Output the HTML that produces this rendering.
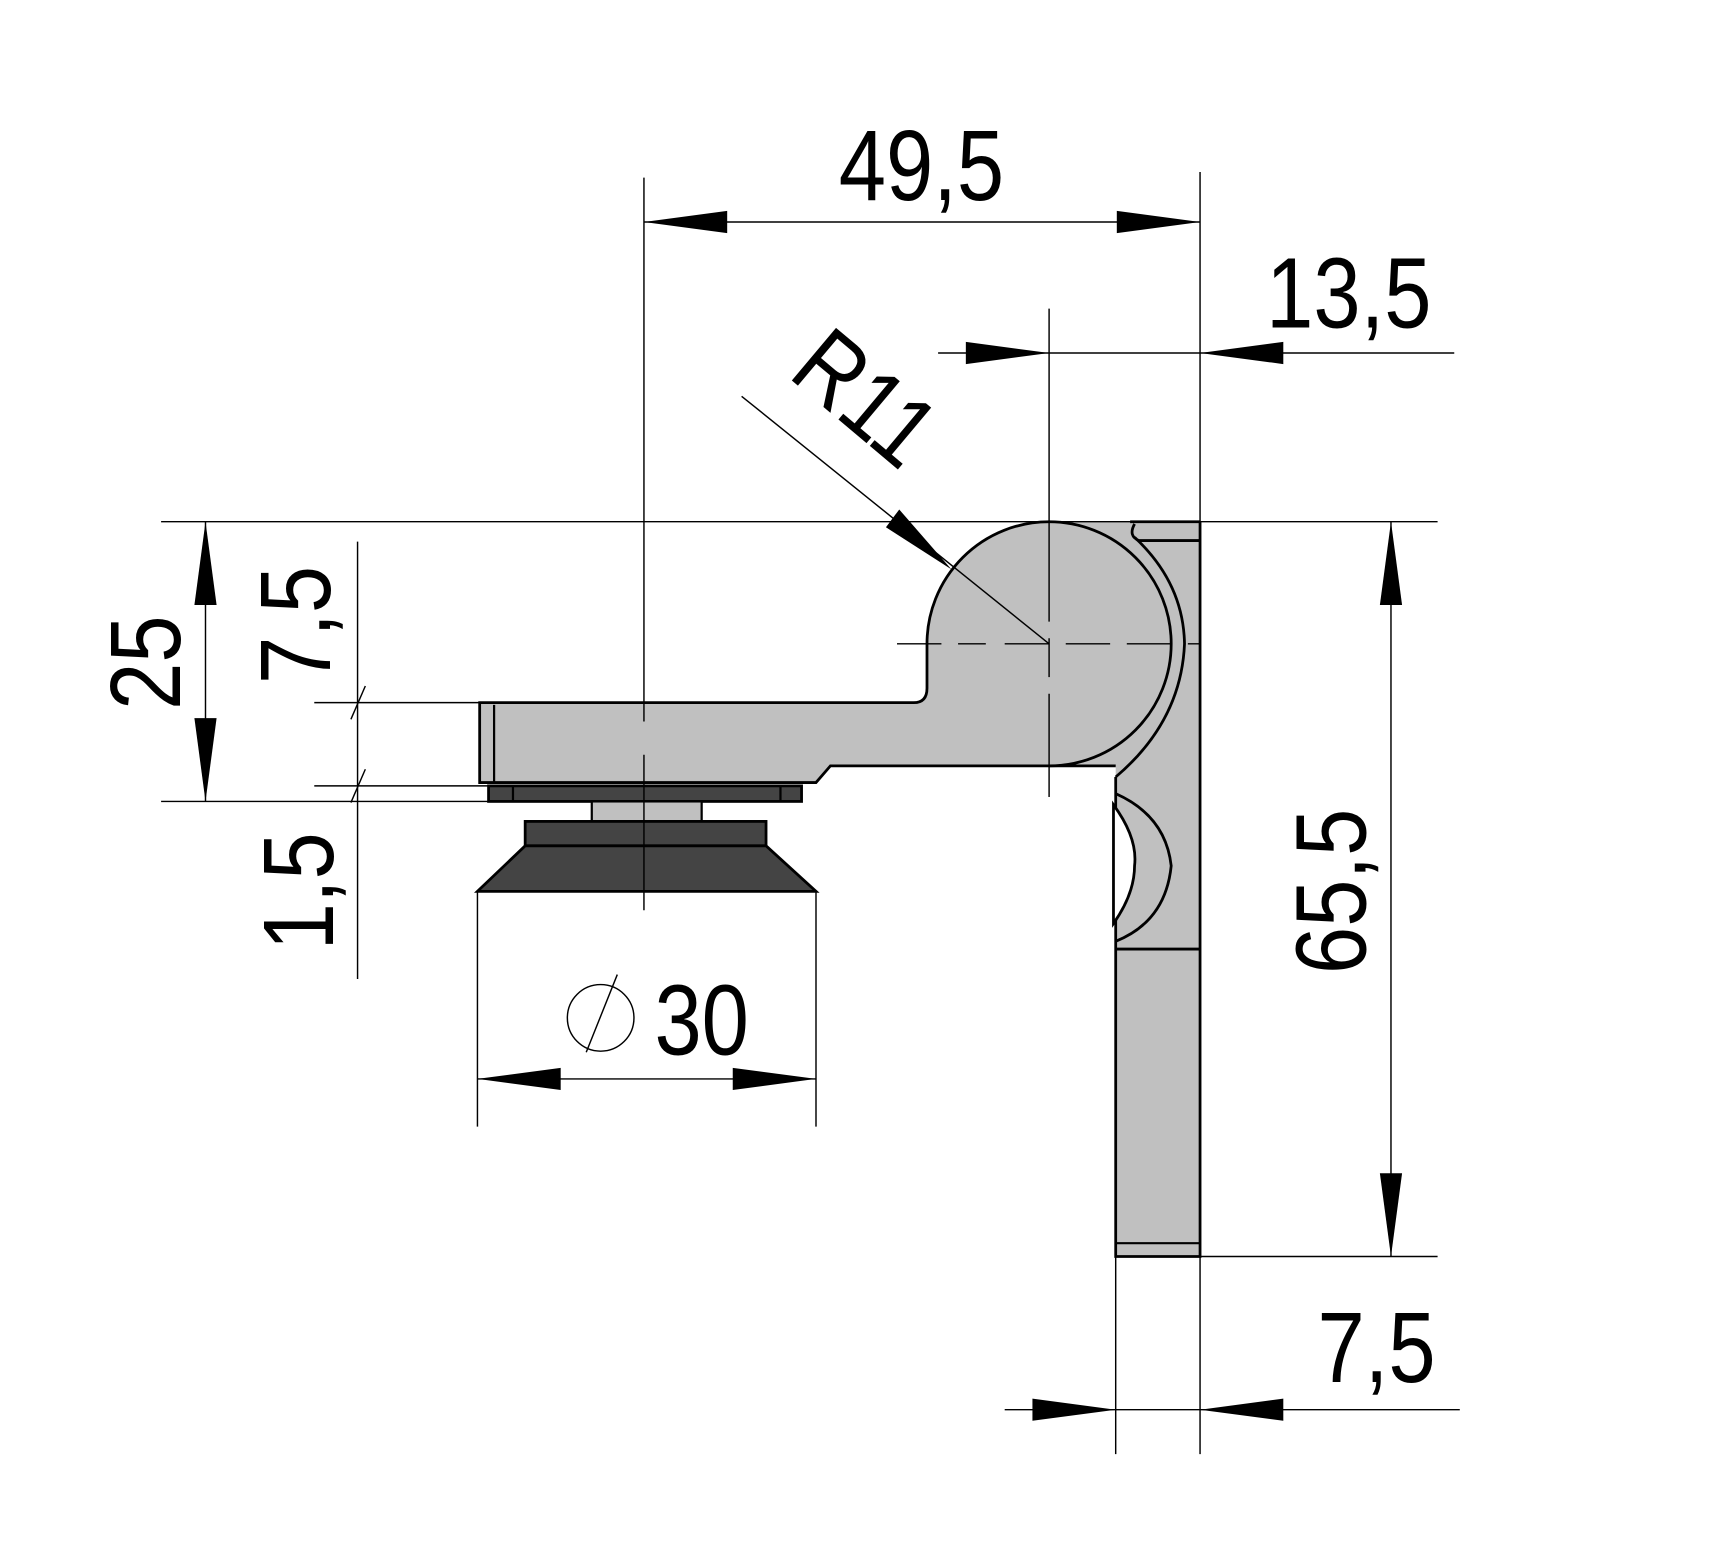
<!DOCTYPE html>
<html><head><meta charset="utf-8"><style>html,body{margin:0;padding:0;background:#fff}svg{display:block}</style></head><body>
<svg width="1733" height="1554" viewBox="0 0 1561 1400" xmlns="http://www.w3.org/2000/svg" font-family="Liberation Sans, sans-serif">
<rect width="1561" height="1400" fill="#fff"/>
<!-- plate fill (extends under hub) -->
<path d="M1018,470 L1081,470 L1081,1132 L1005,1132 L1005,690 L945,690 L945,470 Z" fill="#c0c0c0"/>
<path d="M1081,470 L1081,1132 L1005,1132 L1005,700" fill="none" stroke="#000" stroke-width="2.5"/>
<line x1="1018" y1="470" x2="1081" y2="470" stroke="#000" stroke-width="2.5"/>
<!-- outer arc -->
<path d="M1022,484 Q1066,525 1067,580 Q1064,650 1005,700" fill="none" stroke="#000" stroke-width="2.5"/>
<path d="M1081,487 L1026,487 Q1016,483 1022,472" fill="none" stroke="#000" stroke-width="2.5"/>
<path d="M1005,715 Q1050,735 1055,780 Q1050,830 1005,848" fill="none" stroke="#000" stroke-width="2.5"/>
<path d="M1003,725 Q1025,755 1022,780 Q1022,805 1003,832 Z" fill="#fff" stroke="#000" stroke-width="2.5"/>
<line x1="1005" y1="855" x2="1081" y2="855" stroke="#000" stroke-width="2.5"/>
<line x1="1005" y1="1120" x2="1081" y2="1120" stroke="#000" stroke-width="2"/>
<!-- hub + arm -->
<path d="M432,633 L823,633 Q835,633 835,620 L835,580 A110,110 0 1 1 945,690 L748,690 L735,705 L432,705 Z" fill="#c0c0c0" stroke="#000" stroke-width="2.5"/>
<line x1="945" y1="690" x2="1005" y2="690" stroke="#000" stroke-width="2.5"/>
<line x1="445" y1="635" x2="445" y2="704" stroke="#000" stroke-width="2"/>
<!-- dark parts -->
<rect x="440" y="708" width="282" height="14" fill="#444" stroke="#000" stroke-width="2.5"/>
<line x1="462" y1="708" x2="462" y2="722" stroke="#000" stroke-width="2"/>
<line x1="703" y1="708" x2="703" y2="722" stroke="#000" stroke-width="2"/>
<rect x="533" y="722" width="99" height="18" fill="#c0c0c0" stroke="#000" stroke-width="2"/>
<rect x="473" y="740" width="217" height="22" fill="#444" stroke="#000" stroke-width="2.5"/>
<path d="M473,762 L690,762 L735,803 L430,803 Z" fill="#444" stroke="#000" stroke-width="2.5"/>
<!-- center lines -->
<g stroke="#000" stroke-width="1.3" fill="none">
<line x1="580" y1="160" x2="580" y2="650"/>
<line x1="580" y1="680" x2="580" y2="820"/>
<line x1="945" y1="278" x2="945" y2="560"/>
<line x1="945" y1="575" x2="945" y2="610"/>
<line x1="945" y1="625" x2="945" y2="718"/>
<line x1="808" y1="580" x2="888" y2="580" stroke-dasharray="40,15"/>
<line x1="905" y1="580" x2="1081" y2="580" stroke-dasharray="40,15"/>
<line x1="1081" y1="155" x2="1081" y2="470"/>
<line x1="1081" y1="1132" x2="1081" y2="1310"/>
<line x1="1005" y1="1132" x2="1005" y2="1310"/>
<line x1="145" y1="470" x2="1295" y2="470"/>
<line x1="1081" y1="1132" x2="1295" y2="1132"/>
<line x1="145" y1="722" x2="440" y2="722"/>
<line x1="283" y1="633" x2="432" y2="633"/>
<line x1="283" y1="708" x2="440" y2="708"/>
<line x1="430" y1="803" x2="430" y2="1015"/>
<line x1="735" y1="803" x2="735" y2="1015"/>
<line x1="580" y1="200" x2="1081" y2="200"/>
<line x1="845" y1="318" x2="1310" y2="318"/>
<line x1="905" y1="1270" x2="1315" y2="1270"/>
<line x1="430" y1="972" x2="735" y2="972"/>
<line x1="1253" y1="470" x2="1253" y2="1132"/>
<line x1="185" y1="470" x2="185" y2="722"/>
<line x1="322" y1="488" x2="322" y2="882"/>
<line x1="316" y1="648" x2="329" y2="618"/>
<line x1="316" y1="723" x2="329" y2="693"/>
<line x1="668" y1="357" x2="945" y2="580"/>
<circle cx="541" cy="917" r="30"/>
<line x1="528" y1="948" x2="556" y2="878"/>
</g>
<g fill="#000">
<polygon points="580,200 655,190 655,210"/>
<polygon points="1081,200 1006,190 1006,210"/>
<polygon points="945,318 870,308 870,328"/>
<polygon points="1081,318 1156,308 1156,328"/>
<polygon points="1005,1270 930,1260 930,1280"/>
<polygon points="1081,1270 1156,1260 1156,1280"/>
<polygon points="430,972 505,962 505,982"/>
<polygon points="735,972 660,962 660,982"/>
<polygon points="1253,470 1243,545 1263,545"/>
<polygon points="1253,1132 1243,1057 1263,1057"/>
<polygon points="185,470 175,545 195,545"/>
<polygon points="185,722 175,647 195,647"/>
<polygon points="857,513 798,475 810,459"/>
</g>
<g font-size="90" fill="#000">
<text transform="translate(830,180) scale(0.85,1)" text-anchor="middle">49,5</text>
<text transform="translate(1215,295) scale(0.85,1)" text-anchor="middle">13,5</text>
<text transform="translate(1240,1245) scale(0.85,1)" text-anchor="middle">7,5</text>
<text transform="translate(632,950) scale(0.85,1)" text-anchor="middle">30</text>
<text transform="translate(1230,803) rotate(-90) scale(0.85,1)" text-anchor="middle">65,5</text>
<text transform="translate(162,597) rotate(-90) scale(0.85,1)" text-anchor="middle">25</text>
<text transform="translate(297,563) rotate(-90) scale(0.85,1)" text-anchor="middle">7,5</text>
<text transform="translate(300,803) rotate(-90) scale(0.85,1)" text-anchor="middle">1,5</text>
<text transform="translate(760,382) rotate(40) scale(0.85,1)" text-anchor="middle">R11</text>
</g>
</svg>
</body></html>
